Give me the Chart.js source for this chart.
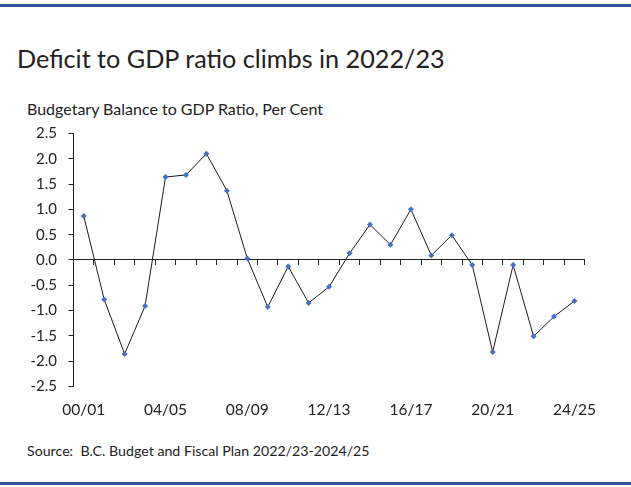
<!DOCTYPE html>
<html lang="en">
<head>
<meta charset="utf-8">
<title>Deficit to GDP ratio climbs in 2022/23</title>
<script src="https://cdn.jsdelivr.net/npm/chart.js@4/dist/chart.umd.min.js"></script>
<style>
  body { margin: 0; background: #fff; }
  #pagina { position: relative; width: 631px; height: 487px; overflow: hidden; font-family: Lato, "Open Sans", sans-serif; color: #222; }
  .linea { position: absolute; left: 0; width: 631px; height: 3px; background: #2f5597; }
  #titulo { position: absolute; left: 17px; top: 45.5px; margin: 0; font-size: 25.2px; line-height: 25px; font-weight: normal; white-space: nowrap; }
  #subtitulo { position: absolute; left: 27px; top: 101px; font-size: 16px; line-height: 16px; white-space: nowrap; }
  #fuente { position: absolute; left: 27px; top: 443.5px; font-size: 14.2px; line-height: 14.2px; white-space: nowrap; }
  #caja { position: absolute; left: 0; top: 112.5px; width: 631px; height: 322px; }
</style>
</head>
<body>
<div id="pagina">
  <div class="linea" style="top: 4px;"></div>
  <h1 id="titulo">Deficit to GDP ratio climbs in 2022/23</h1>
  <div id="subtitulo">Budgetary Balance to GDP Ratio, Per Cent</div>
  <div id="caja"><canvas id="myChart"></canvas></div>
  <div id="fuente">Source:&nbsp; B.C. Budget and Fiscal Plan 2022/23-2024/25</div>
  <div class="linea" style="top: 482px;"></div>
</div>
<script>
/* anios fiscales */
const anios = ['00/01', '01/02', '02/03', '03/04', '04/05', '05/06', '06/07', '07/08', '08/09', '09/10',
               '10/11', '11/12', '12/13', '13/14', '14/15', '15/16', '16/17', '17/18', '18/19', '19/20',
               '20/21', '21/22', '22/23', '23/24', '24/25'];

// saldo presupuestario como % del PIB
const saldoPib = [0.87, -0.78, -1.86, -0.91, 1.64, 1.68, 2.10, 1.37, 0.03, -0.93,
                  -0.13, -0.85, -0.53, 0.13, 0.70, 0.30, 1.00, 0.09, 0.49, -0.10,
                  -1.82, -0.10, -1.51, -1.12, -0.81];

// etiquetas que se muestran en el eje x
const etiquetasX = ['00/01', '04/05', '08/09', '12/13', '16/17', '20/21', '24/25'];

// marcas del eje y
const marcasY = [-2.5, -2.0, -1.5, -1.0, -0.5, 0.0, 0.5, 1.0, 1.5, 2.0, 2.5];

const negro = '#222';

function cargarGrafico() {
    const chartDOM = document.getElementById('myChart');

    const data = {
        labels: anios,
        datasets: [{
            data: saldoPib,
            borderColor: '#1a1a1a',
            borderWidth: 1,
            tension: 0,
            pointStyle: 'rectRot',
            pointRadius: 3,
            pointBackgroundColor: '#4472c4',
            pointBorderWidth: 0,
            xAxisID: 'x'
        }]
    };

    const config = {
        type: 'line',
        data,
        options: {
            responsive: true,
            maintainAspectRatio: false,
            animation: false,
            layout: { padding: { top: 2.5, right: 46.3, bottom: 1, left: 0 } },
            plugins: {
                legend: { display: false },
                tooltip: { enabled: false }
            },
            scales: {
                // eje con las etiquetas abajo
                x: {
                    type: 'category',
                    position: 'bottom',
                    offset: true,
                    grid: { display: false, drawTicks: false },
                    border: { display: false },
                    ticks: {
                        autoSkip: false,
                        maxRotation: 0,
                        padding: 14.5,
                        color: negro,
                        font: { family: 'Lato', size: 15.5 },
                        callback: function (valor, indice) {
                            const etiqueta = anios[indice];
                            return etiquetasX.includes(etiqueta) ? etiqueta : '';
                        }
                    }
                },
                // linea del cero con sus marcas
                xCero: {
                    type: 'category',
                    position: { y: 0 },
                    offset: true,
                    grid: { drawOnChartArea: false, drawTicks: true, tickLength: 5, offset: true, color: negro, lineWidth: 1 },
                    border: { display: true, color: negro, width: 1 },
                    ticks: { display: false }
                },
                y: {
                    min: marcasY[0],
                    max: marcasY[marcasY.length - 1],
                    afterBuildTicks: function (escala) {
                        escala.ticks = marcasY.map(v => ({ value: v }));
                    },
                    afterFit: function (escala) {
                        escala.width = 73.5;
                    },
                    grid: { drawOnChartArea: false, drawTicks: true, tickLength: 5, color: negro, lineWidth: 1 },
                    border: { display: true, color: negro, width: 1 },
                    ticks: {
                        padding: 11.5,
                        color: negro,
                        font: { family: 'Lato', size: 15 },
                        callback: v => Number(v).toFixed(1)
                    }
                }
            }
        }
    };

    new Chart(chartDOM, config);
}

cargarGrafico();
</script>
</body>
</html>
